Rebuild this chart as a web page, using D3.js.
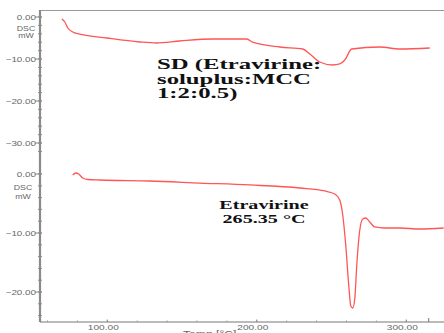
<!DOCTYPE html>
<html>
<head>
<meta charset="utf-8">
<script src="https://cdn.jsdelivr.net/npm/d3@7"></script>
<style>
  body { margin: 0; background: #fff; }
  svg { display: block; }
</style>
</head>
<body>
<div id="chart"></div>
<script>
// upper trace: SD (Etravirine:soluplus:MCC 1:2:0.5)  [temp, mW]
const sd_temp = [69.6, 71.6, 73.6, 76.9, 81.6, 99.7, 121.7, 133.1, 148.5, 170.6, 193.3, 197.3, 215.4, 230.8, 235.5, 242.1, 250.8, 255.5, 258.9, 263.5, 282.3, 295.7, 315.7];
const sd_dsc = [-0.48, -1.19, -2.62, -3.57, -4.05, -5.0, -5.95, -6.19, -5.71, -5.24, -5.24, -6.0, -7.14, -7.62, -8.81, -10.71, -11.43, -11.19, -10.24, -7.62, -7.14, -7.62, -7.38];

// lower trace: pure Etravirine
const etr_temp = [76.9, 78.9, 80.9, 83.6, 87.0, 95.0, 128.4, 161.9, 195.3, 228.8, 245.5, 252.2, 255.5, 257.5, 259.5, 261.5, 262.9, 264.2, 265.6, 266.9, 268.9, 270.9, 272.9, 275.6, 278.9, 285.6, 295.7, 309.0, 325.0];
const etr_dsc = [-0.17, 0.17, 0, -0.68, -0.93, -1.02, -1.19, -1.53, -1.86, -2.37, -2.88, -3.39, -4.41, -6.95, -12.03, -18.81, -22.37, -22.71, -21.02, -15.42, -9.49, -7.63, -7.46, -8.14, -8.98, -9.15, -9.15, -9.32, -9.15];

const x_ticks = [100, 200, 300];
const upper_ticks = [0, -10, -20, -30];
const lower_ticks = [0, -10, -20];

const width = 444, height = 333;
const svg = d3.select("#chart").append("svg")
    .attr("width", width)
    .attr("height", height);

// scales
const x = d3.scaleLinear().domain([55, 315]).range([40, 428.7]);
const y_up = d3.scaleLinear().domain([0, -30]).range([17, 143]);
const y_lo = d3.scaleLinear().domain([0, -20]).range([174, 292]);

const axis_col = "#8a8a8a";
const label_col = "#666";

// frame: top border and left axis line
svg.append("line")
    .attr("x1", 40).attr("x2", width).attr("y1", 10.5).attr("y2", 10.5)
    .attr("stroke", "#999").attr("stroke-width", 1);

svg.append("line")
    .attr("x1", 40).attr("x2", 40).attr("y1", 10).attr("y2", 322)
    .attr("stroke", axis_col).attr("stroke-width", 2.2);

// stretched text helper (the reference is scaled wider than tall)
function stretch_text(g, tx, ty, sx, txt) {
    return g.append("text")
        .attr("transform", "translate(" + tx + "," + ty + ") scale(" + sx + ",1)")
        .text(txt);
}

// y axes: minor ticks, then major ticks with labels
function y_axis(scale, ticks, minor) {
    const g = svg.append("g");
    g.selectAll(".minor")
        .data(minor)
        .enter().append("line")
        .attr("x1", 38).attr("x2", 42)
        .attr("y1", d => scale(d)).attr("y2", d => scale(d))
        .attr("stroke", axis_col).attr("stroke-width", 1);
    g.selectAll(".major")
        .data(ticks)
        .enter().append("line")
        .attr("x1", 35).attr("x2", 42)
        .attr("y1", d => scale(d)).attr("y2", d => scale(d))
        .attr("stroke", axis_col).attr("stroke-width", 1);
    ticks.forEach(t => {
        stretch_text(g, 36, scale(t) + 2.5, 1.35, d3.format(".2f")(t))
            .attr("text-anchor", "end")
            .attr("font-family", "Liberation Sans, Arial, sans-serif")
            .attr("font-size", "7.3px")
            .attr("fill", label_col);
    });
    return g;
}

y_axis(y_up, upper_ticks, d3.range(0, -33, -2));
y_axis(y_lo, lower_ticks, d3.range(0, -25, -2));

// DSC / mW unit labels
[[y_up, 0, 26, 14, 21], [y_lo, 0, 23, 16, 25]].forEach(([sc, v, cx, d1, d2]) => {
    stretch_text(svg, cx, sc(v) + d1, 1.35, "DSC")
        .attr("text-anchor", "middle")
        .attr("font-family", "Liberation Sans, Arial, sans-serif")
        .attr("font-size", "6.5px").attr("fill", label_col);
    stretch_text(svg, cx, sc(v) + d2, 1.35, "mW")
        .attr("text-anchor", "middle")
        .attr("font-family", "Liberation Sans, Arial, sans-serif")
        .attr("font-size", "6.5px").attr("fill", label_col);
});

// x axis
const x_axis_y = 322;
svg.append("line")
    .attr("x1", 40).attr("x2", width).attr("y1", x_axis_y).attr("y2", x_axis_y)
    .attr("stroke", "#777").attr("stroke-width", 1);
svg.append("line")
    .attr("x1", 428.7).attr("x2", 428.7).attr("y1", x_axis_y - 4).attr("y2", x_axis_y)
    .attr("stroke", "#777").attr("stroke-width", 1);

svg.selectAll(".xminor")
    .data(d3.range(60, 315, 20))
    .enter().append("line")
    .attr("x1", d => x(d)).attr("x2", d => x(d))
    .attr("y1", x_axis_y - 1.5).attr("y2", x_axis_y)
    .attr("stroke", "#999").attr("stroke-width", 1);

svg.selectAll(".xmajor")
    .data(x_ticks)
    .enter().append("line")
    .attr("x1", d => x(d)).attr("x2", d => x(d))
    .attr("y1", x_axis_y - 2.5).attr("y2", x_axis_y)
    .attr("stroke", "#888").attr("stroke-width", 1);

x_ticks.forEach(t => {
    stretch_text(svg, x(t) - 4, 330, 1.45, d3.format(".2f")(t))
        .attr("text-anchor", "middle")
        .attr("font-family", "Liberation Sans, Arial, sans-serif")
        .attr("font-size", "7px")
        .attr("fill", label_col);
});

// axis title, cut off by the bottom edge as in the reference
stretch_text(svg, 183, 337, 1.35, "Temp  [°C]")
    .attr("font-family", "Liberation Sans, Arial, sans-serif")
    .attr("font-size", "9px")
    .attr("fill", label_col);

// traces
const line_up = d3.line()
    .x((d, i) => x(sd_temp[i]))
    .y(d => y_up(d))
    .curve(d3.curveMonotoneX);

const line_lo = d3.line()
    .x((d, i) => x(etr_temp[i]))
    .y(d => y_lo(d))
    .curve(d3.curveMonotoneX);

svg.append("path")
    .attr("d", line_up(sd_dsc))
    .attr("fill", "none")
    .attr("stroke", "#ff5555")
    .attr("stroke-width", 1.3);

svg.append("path")
    .attr("d", line_lo(etr_dsc))
    .attr("fill", "none")
    .attr("stroke", "#ff5555")
    .attr("stroke-width", 1.3);

// annotations
const sd_lines = ["SD (Etravirine:", "soluplus:MCC", "1:2:0.5)"];
sd_lines.forEach((s, i) => {
    stretch_text(svg, 157, 69 + i * 14.5, 1.65, s)
        .attr("font-family", "Liberation Serif, Times New Roman, serif")
        .attr("font-weight", "bold")
        .attr("font-size", "15px")
        .attr("fill", "#111");
});

const etr_lines = ["Etravirine", "265.35 °C"];
etr_lines.forEach((s, i) => {
    stretch_text(svg, 264, 209 + i * 13.5, 1.75, s)
        .attr("text-anchor", "middle")
        .attr("font-family", "Liberation Serif, Times New Roman, serif")
        .attr("font-weight", "bold")
        .attr("font-size", "11.5px")
        .attr("fill", "#111");
});
</script>
</body>
</html>
